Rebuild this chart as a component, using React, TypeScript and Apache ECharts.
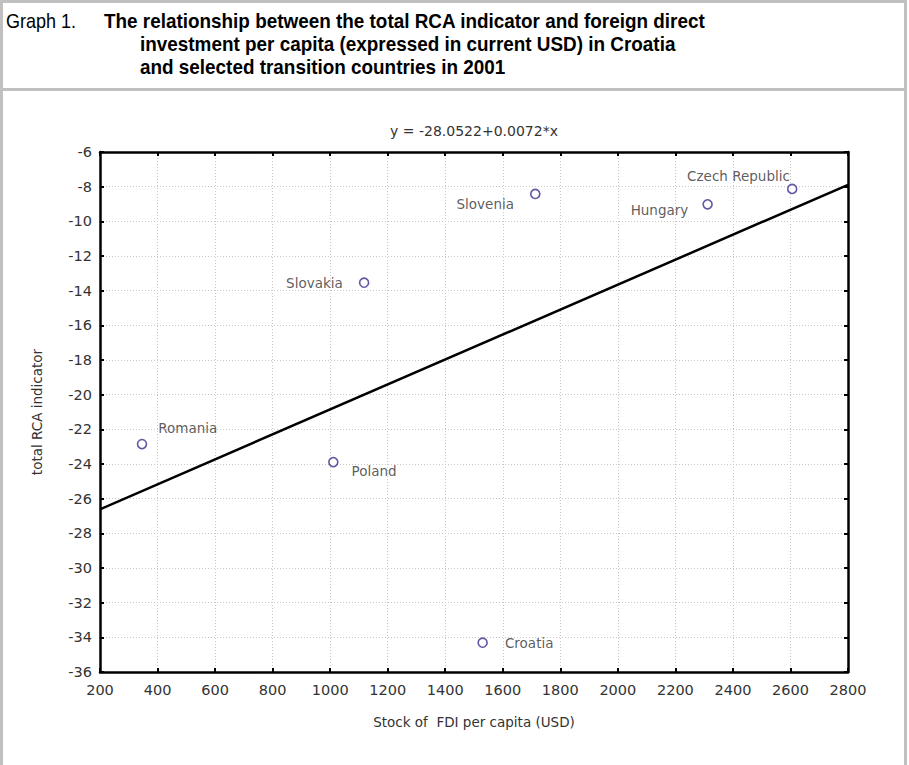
import React, { useEffect, useRef } from "react";
import * as echarts from "echarts";

const countries = ["Romania", "Poland", "Slovakia", "Slovenia", "Hungary", "Czech Republic", "Croatia"];
const fdiPerCapita = [346, 1011, 1118, 1713, 2312, 2606, 1530];
const rcaTotal = [-22.85, -23.89, -13.54, -8.42, -9.02, -8.13, -34.31];

const fitIntercept = -28.0522;
const fitSlope = 0.0072;
const fitLineX = [200, 2800];

const xTicks = { min: 200, max: 2800, interval: 200 };
const yTicks = { min: -36, max: -6, interval: 2 };

const headerNumber = "Graph 1.";
const headerLines = [
  "The relationship between the total RCA indicator and foreign direct",
  "investment per capita (expressed in current USD) in Croatia",
  "and selected transition countries in 2001",
];
const equationText = "y = -28.0522+0.0072*x";
const xName = "Stock of  FDI per capita (USD)";
const yName = "total RCA indicator";

// label placement (styling only)
const labelPlacement: Record<string, { position: string; offset: number[] }> = {
  Romania: { position: "right", offset: [6, -16] },
  Poland: { position: "right", offset: [8, 9] },
  Slovakia: { position: "left", offset: [-11, 0] },
  Slovenia: { position: "left", offset: [-11, 10] },
  Hungary: { position: "left", offset: [-9, 6] },
  "Czech Republic": { position: "left", offset: [8, -13] },
  Croatia: { position: "right", offset: [12, 0] },
};

const FONT = "'DejaVu Sans', Verdana, sans-serif";
const HEADER_FONT = "'Liberation Sans', Arial, sans-serif";

export default function App() {
  const ref = useRef<HTMLDivElement>(null);
  useEffect(() => {
    if (!ref.current) return;
    const chart = echarts.init(ref.current, undefined, { renderer: "svg" });

    const scatterData = countries.map((name, i) => {
      const p = labelPlacement[name];
      return {
        name,
        value: [fdiPerCapita[i], rcaTotal[i]],
        label: { position: p.position, offset: p.offset },
      };
    });
    const fitData = fitLineX.map((x) => [x, fitIntercept + fitSlope * x]);

    const frameAxis = {
      axisLine: { show: true, onZero: false, lineStyle: { color: "#000", width: 2.5 } },
      axisTick: { show: true, inside: true, length: 4, lineStyle: { color: "#000", width: 2 } },
    };
    const gridLine = { show: true, lineStyle: { color: "#c8c8c8", type: [1, 2], width: 1 } };

    chart.setOption({
      animation: false,
      backgroundColor: "#ffffff",
      grid: { left: 100, top: 152, right: 61, bottom: 93, containLabel: false },
      xAxis: [
        {
          type: "value",
          min: xTicks.min,
          max: xTicks.max,
          interval: xTicks.interval,
          name: xName,
          nameLocation: "middle",
          nameGap: 43,
          nameTextStyle: { fontFamily: FONT, fontSize: 13.5, color: "#333" },
          ...frameAxis,
          axisLabel: {
            fontFamily: FONT,
            fontSize: 14.5,
            color: "#333",
            margin: 10,
            formatter: (v: number) => String(v),
          },
          splitLine: gridLine,
        },
        {
          type: "value",
          position: "top",
          min: xTicks.min,
          max: xTicks.max,
          interval: xTicks.interval,
          ...frameAxis,
          axisLabel: { show: false },
          splitLine: { show: false },
        },
      ],
      yAxis: [
        {
          type: "value",
          min: yTicks.min,
          max: yTicks.max,
          interval: yTicks.interval,
          name: yName,
          nameLocation: "middle",
          nameGap: 56,
          nameTextStyle: { fontFamily: FONT, fontSize: 13.5, color: "#333" },
          ...frameAxis,
          axisLabel: {
            fontFamily: FONT,
            fontSize: 14.5,
            color: "#333",
            margin: 8,
            formatter: (v: number) => String(v),
          },
          splitLine: gridLine,
        },
        {
          type: "value",
          position: "right",
          min: yTicks.min,
          max: yTicks.max,
          interval: yTicks.interval,
          ...frameAxis,
          axisLabel: { show: false },
          splitLine: { show: false },
        },
      ],
      series: [
        {
          type: "line",
          data: fitData,
          xAxisIndex: 0,
          yAxisIndex: 0,
          showSymbol: false,
          symbol: "none",
          lineStyle: { color: "#000", width: 2.5 },
          silent: true,
          z: 2,
        },
        {
          type: "scatter",
          data: scatterData,
          xAxisIndex: 0,
          yAxisIndex: 0,
          symbol: "circle",
          symbolSize: 9,
          itemStyle: { color: "#ffffff", borderColor: "#3c2d8c", borderWidth: 1.6 },
          label: {
            show: true,
            formatter: "{b}",
            fontFamily: FONT,
            fontSize: 13.5,
            color: "#333",
            distance: 5,
          },
          z: 3,
        },
      ],
      graphic: [
        {
          type: "rect",
          shape: { x: 1.5, y: 1.5, width: 904, height: 800 },
          style: { fill: "none", stroke: "#c0c0c0", lineWidth: 3 },
          silent: true,
        },
        {
          type: "line",
          shape: { x1: 0, y1: 89.5, x2: 907, y2: 89.5 },
          style: { stroke: "#c0c0c0", lineWidth: 3 },
          silent: true,
        },
        {
          type: "text",
          x: 6,
          y: 21,
          scaleX: 0.9,
          style: {
            text: headerNumber,
            fontFamily: HEADER_FONT,
            fontSize: 20,
            fill: "#000",
            verticalAlign: "middle",
            align: "left",
          },
        },
        ...headerLines.map((t, i) => ({
          type: "text",
          x: i === 0 ? 104 : 140,
          y: 21 + i * 23,
          scaleX: 0.9,
          style: {
            text: t,
            fontFamily: HEADER_FONT,
            fontSize: 21,
            fontWeight: "bold",
            fill: "#000",
            verticalAlign: "middle",
            align: "left",
          },
        })),
        {
          type: "text",
          x: 474,
          y: 131,
          style: {
            text: equationText,
            fontFamily: FONT,
            fontSize: 14,
            fill: "#333",
            align: "center",
            verticalAlign: "middle",
          },
        },
      ],
    });
    return () => chart.dispose();
  }, []);
  return (
    <div
      ref={ref}
      style={{ position: "fixed", left: 0, top: 0, width: 909, height: 765, background: "#fff" }}
    />
  );
}
